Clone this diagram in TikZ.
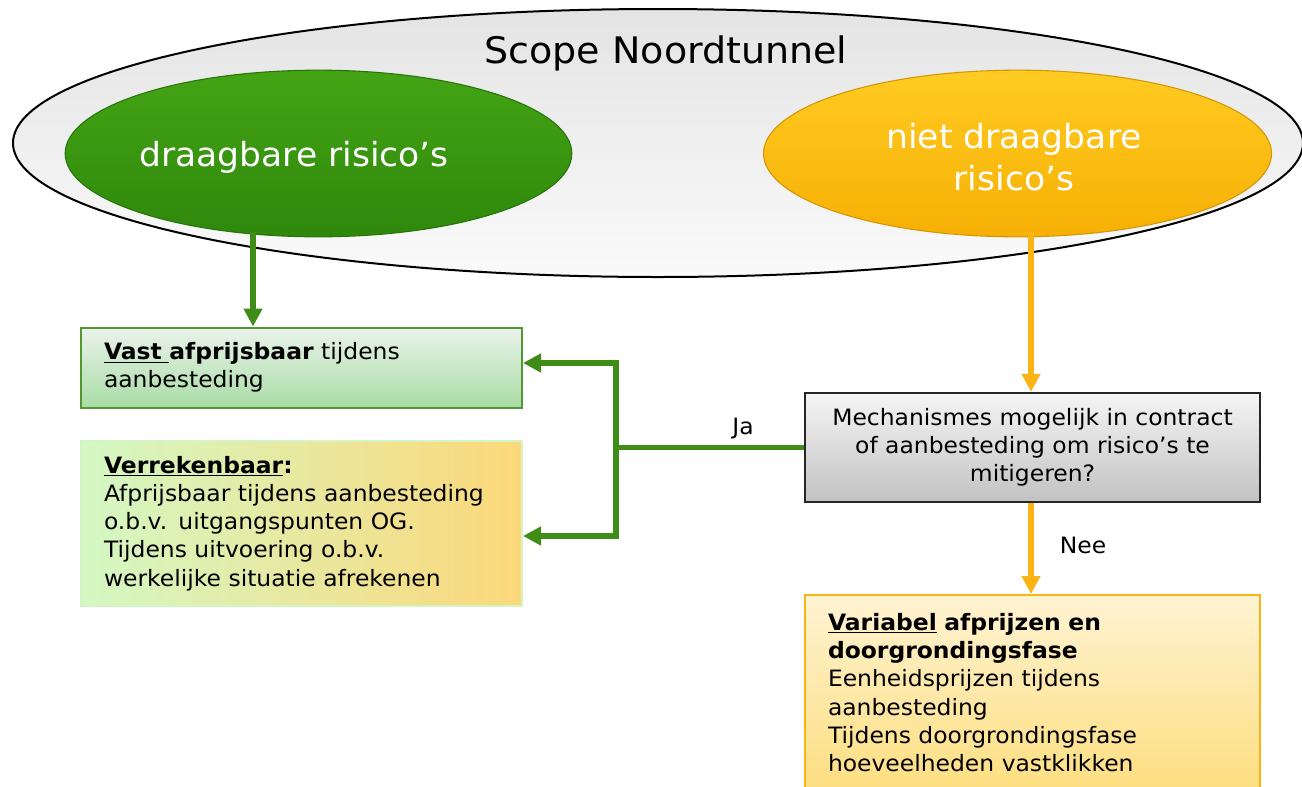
\documentclass[tikz,border=0pt]{standalone}
\usepackage{fontspec}
\setmainfont[FakeStretch=1.04]{DejaVu Sans}
\usetikzlibrary{shapes.geometric,arrows.meta}
\definecolor{gline}{HTML}{3F8C18}
\definecolor{oline}{HTML}{FBB416}
\definecolor{gtop}{HTML}{44A414}
\definecolor{gbot}{HTML}{2F880C}
\definecolor{ytop}{HTML}{FFCB22}
\definecolor{ybot}{HTML}{F7B005}
\definecolor{stop}{HTML}{E4E4E4}
\definecolor{smid}{HTML}{D2D2D2}
\definecolor{sbot}{HTML}{FAFAFA}
\newcommand{\boxfont}{\fontsize{16.9}{21.2}\selectfont}
\tikzset{
  tip/.style={-{Triangle[length=13.5pt,width=13.5pt]}},
  garrow/.style={draw=gline,line width=3.8pt},
  oarrow/.style={draw=oline,line width=3.8pt},
  txtbox/.style={rectangle,inner ysep=0pt,inner xsep=17.25pt,align=left,font=\boxfont},
  lbl/.style={font=\boxfont,inner sep=0pt},
  elltxt/.style={text=white,font=\fontsize{24.9}{32}\selectfont,align=center,inner sep=0pt}
}
\begin{document}
\begin{tikzpicture}[x=0.75pt,y=-0.75pt]
\clip (0,0) rectangle (1302,786);
\fill[white] (0,0) rectangle (1302,786);
% outer ellipse
\node[ellipse,draw=black,line width=1.5pt,minimum width=967.5pt,minimum height=201pt,inner sep=0pt,
      top color=stop,middle color=smid,bottom color=sbot,shading angle=0] (scope) at (658,143) {};
\node[font=\fontsize{27.4}{32}\selectfont,inner sep=0pt] (title) at (666,53) {Scope Noordtunnel};
% green / yellow ellipses
\node[ellipse,draw=gbot!85!black,line width=0.8pt,minimum width=380pt,minimum height=125pt,inner sep=0pt,
      top color=gtop,bottom color=gbot] (gell) at (318.5,153.5) {};
\node[elltxt] (gtxt) at (294,157) {draagbare risico’s};
\node[ellipse,draw=ybot!85!black,line width=0.8pt,minimum width=381pt,minimum height=125pt,inner sep=0pt,
      top color=ytop,bottom color=ybot] (yell) at (1017.5,153.5) {};
\node[elltxt] (ytxt) at (1014,157) {niet draagbare\\risico’s};
% boxes
\node[txtbox,draw=gline!90,line width=1.5pt,minimum width=330.75pt,minimum height=60pt,text width=296.25pt,
      top color=green!40!black!8!white,bottom color={rgb,255:red,168;green,220;blue,165}] (vast) at (301.5,367.5)
  {\underline{\textbf{Vast\ }}\textbf{afprijsbaar} tijdens\\aanbesteding};
\node[txtbox,draw={rgb,255:red,210;green,245;blue,195},line width=1.5pt,minimum width=330.75pt,minimum height=123.75pt,text width=296.25pt,
      left color={rgb,255:red,212;green,248;blue,196},right color={rgb,255:red,252;green,216;blue,122}] (verr) at (301.5,523.5)
  {\underline{\textbf{Verrekenbaar}}\textbf{:}\\Afprijsbaar tijdens aanbesteding\\o.b.v. uitgangspunten OG.\\Tijdens uitvoering o.b.v.\\werkelijke situatie afrekenen};
\node[rectangle,draw=black!85,line width=1.8pt,minimum width=341.25pt,minimum height=81.75pt,inner sep=0pt,
      align=center,font=\boxfont,top color=gray!8,bottom color=gray!48] (mech) at (1032.5,447.5)
  {Mechanismes mogelijk in contract\\of aanbesteding om risico’s te\\mitigeren?};
\node[txtbox,draw=oline,line width=1.5pt,minimum width=341.25pt,minimum height=146.25pt,text width=306.75pt,
      top color={rgb,255:red,255;green,243;blue,210},bottom color={rgb,255:red,253;green,222;blue,128}] (var) at (1032.5,692.5)
  {\underline{\textbf{Variabel}} \textbf{afprijzen en}\\\textbf{doorgrondingsfase}\\Eenheidsprijzen tijdens\\aanbesteding\\Tijdens doorgrondingsfase\\hoeveelheden vastklikken};
% connectors
\coordinate (ga) at (253,232);
\coordinate (ya) at (1031,232);
\coordinate (jt) at (616,363);
\coordinate (jb) at (616,536);
\draw[garrow,tip] (ga) -- (ga |- vast.north);
\draw[oarrow,tip] (ya) -- (ya |- mech.north);
\draw[garrow,line join=miter,{Triangle[length=13.5pt,width=13.5pt]}-{Triangle[length=13.5pt,width=13.5pt]}]
  (vast.east |- jt) -- (jt) -- (jb) -- (verr.east |- jb);
\draw[garrow] (mech.west) -- (mech.west -| jt);
\draw[oarrow,tip] (mech.south -| ya) -- (var.north -| ya);
\node[lbl] (ja) at (743,429) {Ja};
\node[lbl] (nee) at (1083,545) {Nee};
\end{tikzpicture}
\end{document}
